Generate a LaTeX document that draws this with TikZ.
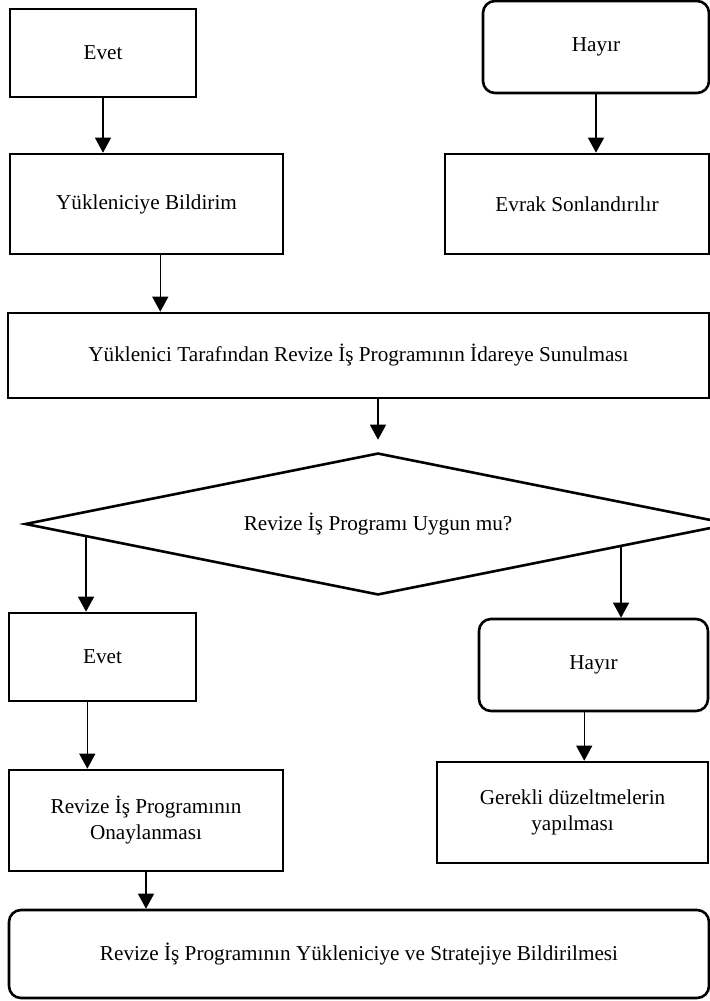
\documentclass[tikz,border=0pt]{standalone}
\usepackage{fontspec}
\setmainfont{Liberation Serif}
\usetikzlibrary{shapes.geometric,arrows.meta,calc}

\begin{document}
\begin{tikzpicture}[x=0.5pt,y=-0.5pt,
    font=\fontsize{10.6}{13}\selectfont,
    box_node/.style={rectangle,draw=black,line width=1.3pt,align=center,inner sep=0pt},
    round_node/.style={box_node,rounded corners=6pt},
    decision_node/.style={diamond,aspect=5,draw=black,line width=1.3pt,inner sep=0pt,minimum width=353pt,minimum height=71pt},
    flow_arrow/.style={black,line width=0.6pt,-{Triangle[width=8pt,length=7.5pt]}}]
  \useasboundingbox (0,0) rectangle (710,1001);
\node[box_node,minimum width=93pt,minimum height=44pt] (0) at (103,53) {Evet};
\node[round_node,minimum width=113pt,minimum height=46pt] (1) at (596,47) {Hayır};
\node[box_node,minimum width=136.5pt,minimum height=50pt] (2) at (146.5,204) {Yükleniciye Bildirim};
\node[box_node,minimum width=132pt,minimum height=50pt] (3) at (577,204) {Evrak Sonlandırılır};
\node[box_node,minimum width=350.5pt,minimum height=42.5pt] (4) at (358.5,355.5) {Yüklenici Tarafından Revize İş Programının İdareye Sunulması};
\node[decision_node] (5) at (378,524) {Revize İş Programı Uygun mu?};
\node[box_node,minimum width=93.5pt,minimum height=44pt] (6) at (102.5,657) {Evet};
\node[round_node,minimum width=114.5pt,minimum height=46pt] (7) at (593.5,665) {Hayır};
\node[box_node,minimum width=137pt,minimum height=50.5pt] (8) at (146,820.5) {Revize İş Programının\\Onaylanması};
\node[box_node,minimum width=135.5pt,minimum height=50.5pt] (9) at (572.5,812.5) {Gerekli düzeltmelerin\\yapılması};
\node[round_node,minimum width=350pt,minimum height=44pt] (10) at (359,954) {Revize İş Programının Yükleniciye ve Stratejiye Bildirilmesi};
\coordinate (2s) at ($(2.south west)!0.55!(2.south east)$);
\coordinate (5l) at ($(5.west)!0.176!(5.south)$);
\coordinate (5r) at ($(5.east)!0.314!(5.south)$);
\coordinate (6s) at ($(6.south west)!0.42!(6.south east)$);
\coordinate (7s) at ($(7.south west)!0.46!(7.south east)$);
\draw[flow_arrow] (0.south) -- (0.south |- 2.north);
\draw[flow_arrow] (1.south) -- (1.south |- 3.north);
\draw[flow_arrow] (2s) -- (2s |- 4.north);
\draw[flow_arrow,shorten >=6pt] (5.north |- 4.south) -- (5.north);
\draw[flow_arrow] (5l) -- (5l |- 6.north);
\draw[flow_arrow] (5r) -- (5r |- 7.north);
\draw[flow_arrow] (6s) -- (6s |- 8.north);
\draw[flow_arrow] (7s) -- (7s |- 9.north);
\draw[flow_arrow] (8.south) -- (8.south |- 10.north);
\end{tikzpicture}
\end{document}
